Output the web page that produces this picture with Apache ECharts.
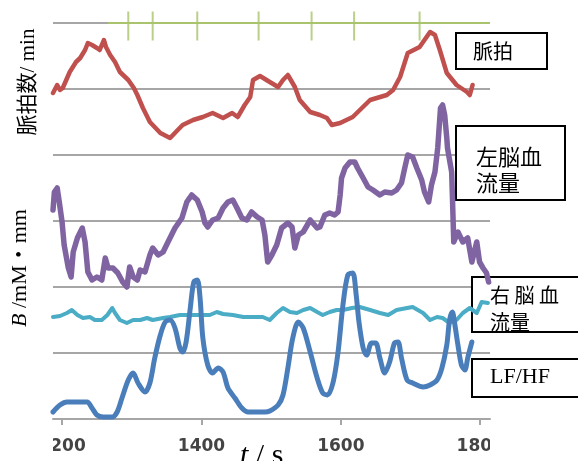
<!DOCTYPE html>
<html>
<head>
<meta charset="utf-8">
<script src="https://cdn.jsdelivr.net/npm/echarts@6/dist/echarts.min.js"></script>
<style>
  html, body { margin: 0; padding: 0; background: #fff; }
  #chart { width: 578px; height: 461px; }
</style>
</head>
<body>
<div id="chart"></div>
<script>
// time in s, value in display units (each gridline = 66)
const tickValues = [1200, 1400, 1600, 1800];
const eventTimes = [1295, 1330, 1394, 1482, 1558, 1619, 1713];
const eventSpan = [1266, 1814];

const pulse = [
  [1187, 326], [1193, 334], [1197, 329], [1201, 331], [1211, 347], [1220, 357],
  [1226, 361], [1233, 369], [1237, 376], [1243, 374], [1250, 371], [1254, 369],
  [1260, 379], [1263, 372], [1269, 364], [1276, 357], [1283, 347], [1295, 339],
  [1303, 331], [1308, 324], [1316, 311], [1326, 297], [1341, 286], [1355, 281],
  [1366, 289], [1373, 294], [1388, 299], [1402, 302], [1416, 306], [1431, 301],
  [1444, 306], [1452, 302], [1462, 314], [1470, 322], [1474, 339], [1484, 343],
  [1498, 337], [1510, 332], [1517, 339], [1524, 344], [1534, 332], [1541, 319],
  [1556, 307], [1570, 304], [1580, 301], [1587, 294], [1599, 296], [1617, 302],
  [1642, 319], [1666, 324], [1675, 329], [1685, 342], [1696, 366], [1713, 372],
  [1728, 387], [1735, 384], [1742, 369], [1752, 346], [1766, 334], [1781, 327],
  [1785, 324], [1789, 334]
];

const leftFlow = [
  [1187, 209], [1189, 227], [1193, 231], [1196, 217], [1200, 197], [1203, 174],
  [1209, 151], [1213, 142], [1216, 167], [1222, 181], [1229, 191], [1233, 177],
  [1237, 147], [1243, 139], [1250, 142], [1257, 139], [1262, 161], [1266, 151],
  [1273, 151], [1280, 146], [1287, 137], [1293, 132], [1297, 152], [1302, 142],
  [1308, 139], [1312, 149], [1319, 147], [1326, 164], [1330, 171], [1338, 164],
  [1345, 167], [1352, 177], [1362, 191], [1372, 201], [1379, 217], [1386, 224],
  [1394, 219], [1401, 207], [1405, 196], [1409, 192], [1416, 199], [1424, 201],
  [1431, 211], [1438, 217], [1445, 219], [1451, 211], [1458, 201], [1465, 199],
  [1472, 207], [1480, 202], [1487, 199], [1491, 184], [1495, 157], [1501, 164],
  [1508, 174], [1515, 191], [1524, 196], [1530, 192], [1534, 171], [1539, 184],
  [1546, 187], [1556, 199], [1566, 191], [1570, 192], [1577, 204], [1584, 206],
  [1591, 204], [1596, 207], [1599, 224], [1601, 241], [1606, 251], [1613, 257],
  [1620, 257], [1624, 251], [1632, 241], [1639, 232], [1646, 229], [1656, 224],
  [1663, 227], [1673, 226], [1680, 229], [1687, 236], [1692, 252], [1696, 264],
  [1703, 262], [1709, 251], [1716, 239], [1720, 227], [1726, 217], [1730, 234],
  [1735, 247], [1739, 271], [1743, 311], [1746, 314], [1749, 304], [1752, 281],
  [1753, 271], [1759, 247], [1760, 224], [1762, 177], [1768, 187], [1775, 177],
  [1782, 181], [1788, 157], [1795, 177], [1799, 157], [1804, 151], [1809, 146],
  [1812, 137]
];

const rightFlow = [
  [1187, 102], [1197, 103], [1207, 106], [1214, 109], [1222, 104], [1230, 101],
  [1240, 102], [1247, 99], [1257, 99], [1265, 104], [1272, 111], [1276, 106],
  [1283, 99], [1293, 96], [1302, 99], [1312, 99], [1322, 101], [1330, 99],
  [1345, 101], [1355, 102], [1369, 104], [1384, 104], [1398, 104], [1412, 104],
  [1422, 107], [1431, 105], [1445, 104], [1460, 102], [1474, 102], [1488, 102],
  [1498, 99], [1508, 106], [1517, 111], [1527, 107], [1537, 106], [1546, 109],
  [1556, 111], [1566, 107], [1574, 104], [1584, 107], [1594, 109], [1603, 109],
  [1616, 111], [1627, 112], [1642, 109], [1656, 106], [1668, 104], [1680, 109],
  [1695, 111], [1703, 112], [1718, 106], [1728, 99], [1738, 102], [1746, 101],
  [1756, 96], [1766, 99], [1775, 106], [1785, 111], [1795, 106], [1802, 117],
  [1811, 116]
];

const lfhf = [
  [1187, 7], [1197, 14], [1207, 17], [1222, 17], [1236, 17], [1243, 11],
  [1250, 4], [1259, 2], [1272, 2], [1279, 7], [1286, 21], [1295, 39],
  [1302, 46], [1309, 36], [1319, 27], [1326, 36], [1333, 61], [1341, 84],
  [1348, 97], [1355, 99], [1362, 91], [1369, 71], [1373, 67], [1378, 77],
  [1384, 111], [1389, 137], [1394, 139], [1398, 121], [1402, 81], [1409, 54],
  [1416, 46], [1424, 51], [1431, 47], [1438, 31], [1448, 21], [1458, 11],
  [1467, 7], [1480, 7], [1491, 7], [1498, 8], [1510, 14], [1517, 24],
  [1524, 51], [1531, 81], [1539, 97], [1546, 91], [1556, 67], [1566, 41],
  [1574, 26], [1581, 24], [1589, 37], [1596, 67], [1603, 114], [1610, 144],
  [1617, 146], [1622, 124], [1626, 97], [1632, 71], [1637, 64], [1644, 76],
  [1650, 76], [1656, 61], [1663, 46], [1670, 57], [1677, 76], [1682, 77],
  [1687, 61], [1695, 39], [1703, 36], [1718, 32], [1728, 34], [1738, 39],
  [1745, 51], [1752, 74], [1756, 99], [1760, 107], [1763, 97], [1768, 74],
  [1773, 54], [1778, 49], [1782, 61], [1788, 77]
];

const gray = '#a6a6a6';
const serif = "'Liberation Serif', 'Times New Roman', 'Noto Sans CJK JP', serif";
const cjk = "'Noto Sans CJK JP', sans-serif";

const chart = echarts.init(document.getElementById('chart'));

function traceLine(name, data, color, width, smooth) {
  return {
    name: name,
    type: 'line',
    data: data,
    showSymbol: false,
    clip: false,
    smooth: smooth || false,
    lineStyle: { color: color, width: width, cap: 'round', join: 'round' },
    z: 3
  };
}

function box(x, y, w, h) {
  return {
    type: 'rect', z: 1,
    shape: { x: x, y: y, width: w, height: h },
    style: { fill: '#fff', stroke: '#000', lineWidth: 2 }
  };
}

function label(text, x, y, size, font, rotation) {
  return {
    type: 'text', z: 5, x: x, y: y, rotation: rotation || 0,
    style: {
      text: text, fill: '#000', fontSize: size, fontFamily: font,
      align: 'left', verticalAlign: 'middle',
      textAlign: 'left', textVerticalAlign: 'middle'
    }
  };
}

const option = {
  animation: false,
  backgroundColor: '#fff',
  grid: { left: 53, right: 88, top: 23, bottom: 42 },
  xAxis: {
    type: 'value',
    min: 1187,
    max: 1814,
    axisLine: { lineStyle: { color: gray, width: 2 } },
    axisTick: { customValues: tickValues, length: 6, lineStyle: { color: gray, width: 2 } },
    axisLabel: {
      customValues: tickValues, margin: 19,
      formatter: v => String(v),
      fontFamily: 'DejaVu Sans', fontWeight: 'bold', fontSize: 17, color: '#444'
    },
    splitLine: { show: false }
  },
  yAxis: {
    type: 'value',
    min: 0,
    max: 396,
    interval: 66,
    axisLine: { show: false },
    axisTick: { show: false },
    axisLabel: { show: false },
    splitLine: { lineStyle: { color: gray, width: 2 } }
  },
  series: [
    {
      name: 'events',
      type: 'line',
      data: eventSpan.map(t => [t, 396]),
      showSymbol: false,
      clip: false,
      lineStyle: { color: '#a9c46c', width: 2 },
      z: 3
    },
    {
      name: 'eventTicks',
      type: 'scatter',
      data: eventTimes.map(t => [t, 396]),
      symbol: 'rect',
      symbolSize: [2, 29],
      symbolOffset: [0, 3],
      clip: false,
      itemStyle: { color: '#a9c46c' },
      z: 3
    },
    traceLine('脈拍', pulse, '#c0504d', 4.5),
    traceLine('左脳血流量', leftFlow, '#8064a2', 5.5),
    traceLine('右脳血流量', rightFlow, '#4bacc6', 4),
    traceLine('LF/HF', lfhf, '#4a7ebb', 5, 0.3)
  ],
  graphic: [
    // cover the clipped ends of the tick labels
    { type: 'rect', z: 10, shape: { x: 20, y: 428, width: 33, height: 24 }, style: { fill: '#fff' } },
    { type: 'rect', z: 10, shape: { x: 490, y: 428, width: 88, height: 24 }, style: { fill: '#fff' } },

    box(456, 33, 91, 36),
    label('脈拍', 473, 51, 20, cjk),
    box(456, 126, 109, 74),
    label('左脳血', 476, 157, 22, cjk),
    label('流量', 476, 183, 22, cjk),
    box(472, 277, 120, 55),
    label('右 脳 血', 490, 295, 20, cjk),
    label('流量', 490, 322, 20, cjk),
    box(472, 359, 120, 38),
    label('LF/HF', 490, 377, 22, serif),

    {
      type: 'text', z: 5, x: 28, y: 82, rotation: Math.PI / 2,
      style: {
        text: '脈拍数/ min', fill: '#000', fontSize: 21, fontFamily: serif,
        align: 'center', verticalAlign: 'middle',
        textAlign: 'center', textVerticalAlign: 'middle'
      }
    },
    {
      type: 'text', z: 5, x: 20, y: 268, rotation: Math.PI / 2,
      style: {
        text: '{i|B} /mM・mm', fill: '#000', fontSize: 22, fontFamily: serif,
        align: 'center', verticalAlign: 'middle',
        textAlign: 'center', textVerticalAlign: 'middle',
        rich: { i: { fontStyle: 'italic', fontSize: 22, fontFamily: serif } }
      }
    },
    {
      type: 'text', z: 5, x: 240, y: 456,
      style: {
        text: '{i|t} / s', fill: '#000', fontSize: 30, fontFamily: serif,
        align: 'left', verticalAlign: 'middle',
        textAlign: 'left', textVerticalAlign: 'middle',
        rich: { i: { fontStyle: 'italic', fontSize: 30, fontFamily: serif } }
      }
    }
  ]
};

chart.setOption(option);
window.onresize = () => chart.resize();
</script>
</body>
</html>
